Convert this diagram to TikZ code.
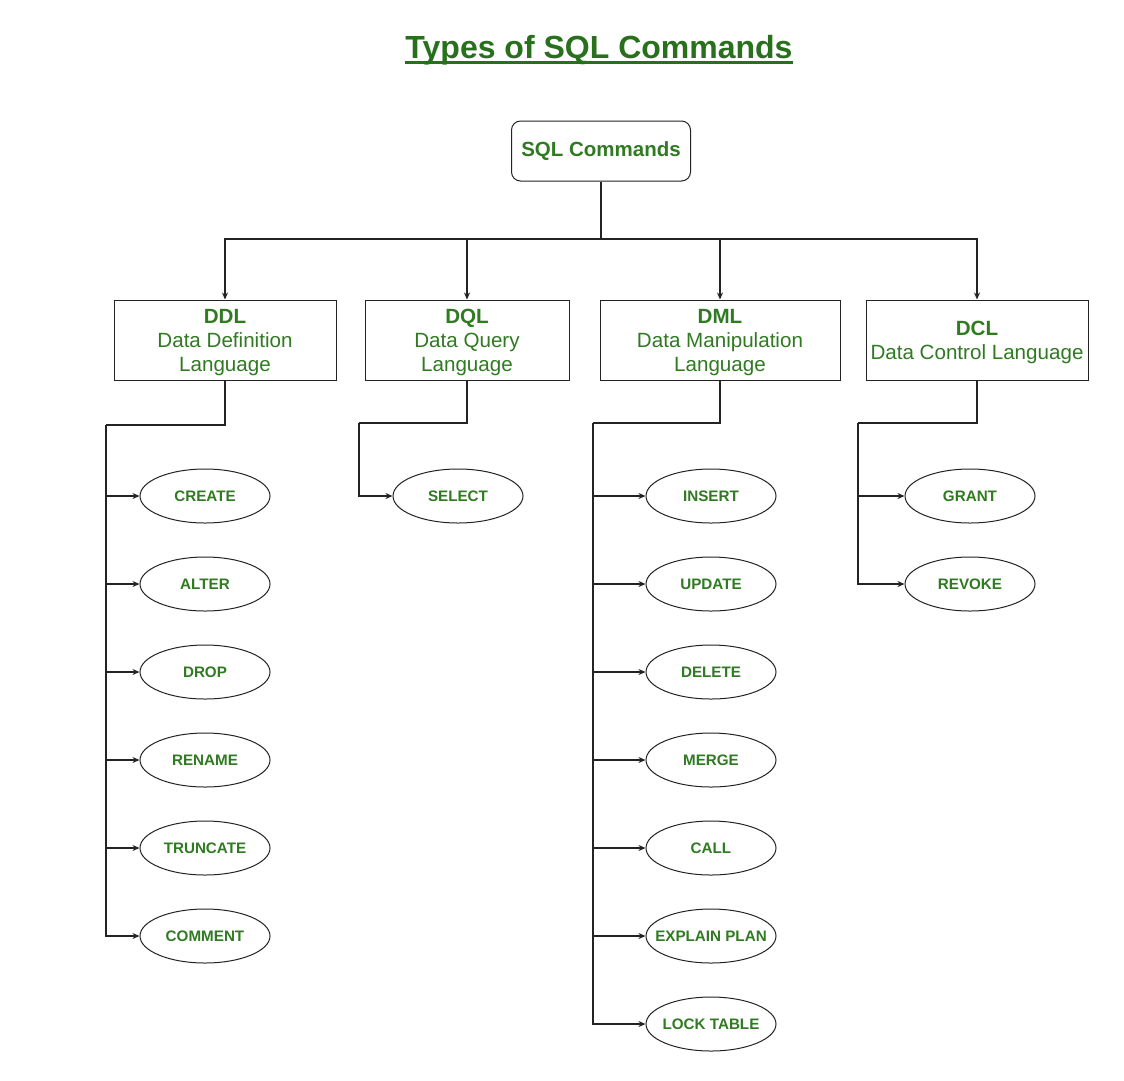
\documentclass[tikz,border=0pt]{standalone}
\usepackage{fontspec}
\setmainfont{Liberation Sans}
\usetikzlibrary{shapes.geometric,arrows.meta}
\definecolor{txtgreen}{RGB}{48,122,34}
\definecolor{titlegreen}{RGB}{40,112,28}
\definecolor{linec}{RGB}{35,35,35}
\newcommand{\cmdtext}[1]{\makebox[60pt][c]{#1}}
\newcommand{\lowerstrut}{\rule{0pt}{20pt}}
\tikzset{
  conn/.style={draw=linec,line width=1.2pt},
  arr/.style={conn,-{Stealth[length=7pt,width=6pt]}},
  catbox/.style={draw=linec,line width=1pt,rectangle,minimum height=80pt,inner xsep=2pt,inner ysep=0pt,align=center,text=txtgreen,font=\fontsize{20.6}{24}\selectfont},
  cmd/.style={draw=linec,line width=1pt,ellipse,minimum width=130pt,minimum height=54pt,inner sep=0pt,text=txtgreen,font=\fontsize{15.2}{18}\selectfont\bfseries},
}
\begin{document}
\begin{tikzpicture}[x=1pt,y=-1pt]
\useasboundingbox[fill=white] (0,0) rectangle (1124,1080);
% title
\node[text=titlegreen,font=\fontsize{32}{36}\selectfont\bfseries,inner sep=0pt,anchor=base] (title) at (599,58) {Types of SQL Commands};
\fill[titlegreen] (405,61) rectangle (793,63.5);
% root
\node[draw=linec,line width=1pt,rounded corners=9pt,minimum width=179pt,minimum height=60pt,text=txtgreen,font=\fontsize{20.5}{24}\selectfont\bfseries] (root) at (601,151) {SQL Commands};
% categories
\node[catbox,minimum width=222pt] (ddl) at (225,340) {\lowerstrut\textbf{DDL}\\Data Definition\\Language};
\node[catbox,minimum width=204pt] (dql) at (467,340) {\lowerstrut\textbf{DQL}\\Data Query\\Language};
\node[catbox,minimum width=240pt] (dml) at (720,340) {\lowerstrut\textbf{DML}\\Data Manipulation\\Language};
\node[catbox,minimum width=222pt] (dcl) at (977,340) {\lowerstrut\textbf{DCL}\\Data Control Language};
% top connectors
\coordinate (bus) at (601,239);
\draw[conn] (root.south) -- (bus);
\draw[arr] (bus) -| (ddl.north);
\draw[arr] (bus) -| (dql.north);
\draw[arr] (bus) -| (dml.north);
\draw[arr] (bus) -| (dcl.north);
% DDL children
\node[cmd] (create) at (205,496) {\cmdtext{CREATE}};
\node[cmd] (alter) at (205,584) {\cmdtext{ALTER}};
\node[cmd] (drop) at (205,672) {\cmdtext{DROP}};
\node[cmd] (rename) at (205,760) {\cmdtext{RENAME}};
\node[cmd] (truncate) at (205,848) {\cmdtext{TRUNCATE}};
\node[cmd] (comment) at (205,936) {\cmdtext{COMMENT}};
\coordinate (ddlc) at (106,425);
\draw[conn] (ddl.south) |- (ddlc);
\foreach \n in {create,alter,drop,rename,truncate,comment}
  \draw[arr] (ddlc) |- (\n.west);
% DQL children
\node[cmd] (select) at (458,496) {\cmdtext{SELECT}};
\coordinate (dqlc) at (359,423);
\draw[conn] (dql.south) |- (dqlc);
\draw[arr] (dqlc) |- (select.west);
% DML children
\node[cmd] (insert) at (711,496) {\cmdtext{INSERT}};
\node[cmd] (update) at (711,584) {\cmdtext{UPDATE}};
\node[cmd] (delete) at (711,672) {\cmdtext{DELETE}};
\node[cmd] (merge) at (711,760) {\cmdtext{MERGE}};
\node[cmd] (call) at (711,848) {\cmdtext{CALL}};
\node[cmd] (explain) at (711,936) {\cmdtext{EXPLAIN PLAN}};
\node[cmd] (lock) at (711,1024) {\cmdtext{LOCK TABLE}};
\coordinate (dmlc) at (593,423);
\draw[conn] (dml.south) |- (dmlc);
\foreach \n in {insert,update,delete,merge,call,explain,lock}
  \draw[arr] (dmlc) |- (\n.west);
% DCL children
\node[cmd] (grant) at (970,496) {\cmdtext{GRANT}};
\node[cmd] (revoke) at (970,584) {\cmdtext{REVOKE}};
\coordinate (dclc) at (858,423);
\draw[conn] (dcl.south) |- (dclc);
\foreach \n in {grant,revoke}
  \draw[arr] (dclc) |- (\n.west);
\end{tikzpicture}
\end{document}
